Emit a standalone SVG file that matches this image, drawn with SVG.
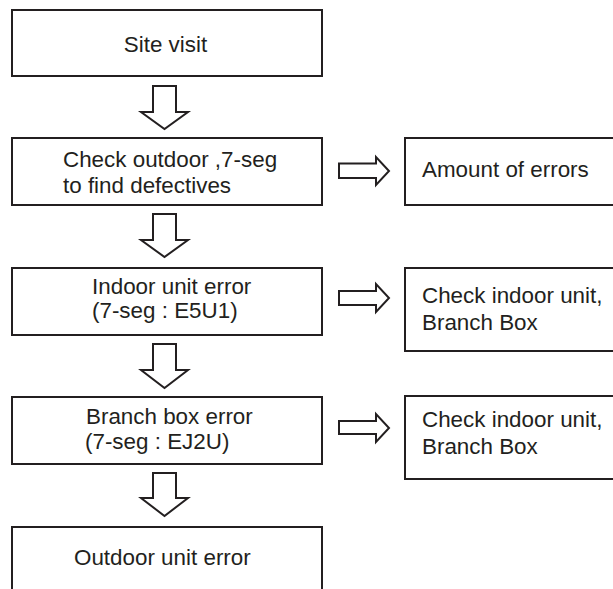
<svg xmlns="http://www.w3.org/2000/svg" width="613" height="589" viewBox="0 0 613 589">
<style>
.box{fill:#fff;stroke:#231f20;stroke-width:2}
.arr{fill:#fff;stroke:#231f20;stroke-width:2;stroke-linejoin:miter}
text{font-family:"Liberation Sans",Arial,sans-serif;font-size:22.4px;fill:#231f20}
</style>
<rect width="613" height="589" fill="#fff"/>
<g id="connectors">
<path class="arr" d="M153,86 H176 V112 H188 L164.5,129 L141,112 H153 Z"/>
<path class="arr" d="M153,214 H176 V240 H188 L164.5,257 L141,240 H153 Z"/>
<path class="arr" d="M153,344 H176 V370 H188 L164.5,388 L141,370 H153 Z"/>
<path class="arr" d="M153,473 H176 V498 H188 L164.5,516 L141,498 H153 Z"/>
<path class="arr" d="M339,163.5 H376 V157 L389,171 L376,185 V178 H339 Z"/>
<path class="arr" d="M339,291 H376 V284 L389,298 L376,312 V305 H339 Z"/>
<path class="arr" d="M339,421 H376 V414 L389,428 L376,442 V434 H339 Z"/>
</g>
<g id="site-visit">
<rect class="box" x="12" y="10" width="310" height="66"/>
<text x="165.5" y="52" text-anchor="middle">Site visit</text>
</g>
<g id="check-outdoor">
<rect class="box" x="12" y="138" width="310" height="67"/>
<text x="63" y="167">Check outdoor ,7-seg</text>
<text x="63" y="193">to find defectives</text>
</g>
<g id="indoor-error">
<rect class="box" x="12" y="268" width="310" height="67"/>
<text x="92" y="294">Indoor unit error</text>
<text x="92" y="318">(7-seg : E5U1)</text>
</g>
<g id="branch-error">
<rect class="box" x="12" y="397" width="310" height="67"/>
<text x="86" y="424">Branch box error</text>
<text x="85" y="449">(7-seg : EJ2U)</text>
</g>
<g id="outdoor-error">
<rect class="box" x="12" y="527" width="310" height="80"/>
<text x="74" y="565">Outdoor unit error</text>
</g>
<g id="amount-errors">
<rect class="box" x="405" y="138" width="220" height="67"/>
<text x="422" y="177">Amount of errors</text>
</g>
<g id="check-indoor-1">
<rect class="box" x="405" y="268" width="220" height="83"/>
<text x="422" y="303">Check indoor unit,</text>
<text x="422" y="330">Branch Box</text>
</g>
<g id="check-indoor-2">
<rect class="box" x="405" y="396" width="220" height="83"/>
<text x="422" y="427">Check indoor unit,</text>
<text x="422" y="454">Branch Box</text>
</g>
</svg>
